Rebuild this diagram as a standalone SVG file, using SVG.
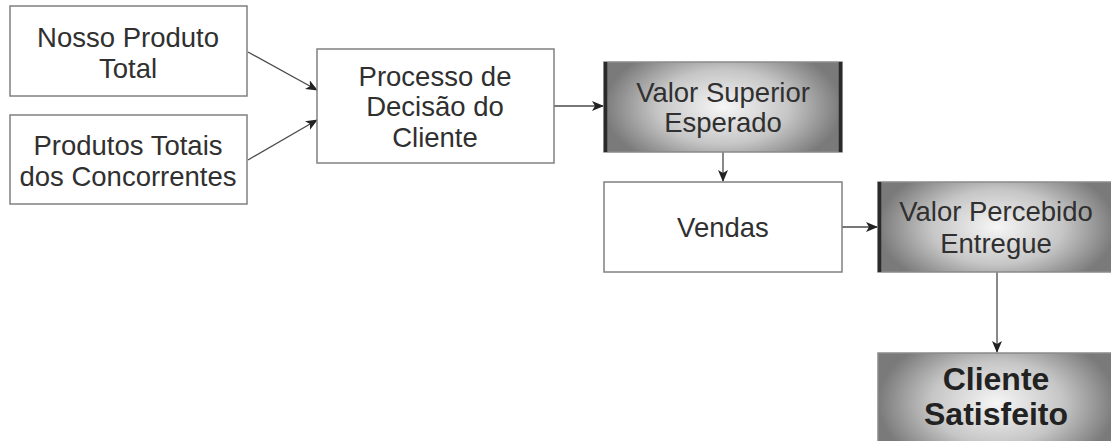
<svg xmlns="http://www.w3.org/2000/svg" width="1111" height="441" viewBox="0 0 1111 441">
<style>
.box{fill:#fff;stroke:#808080;stroke-width:1.5}
.gbox{fill:url(#shade);stroke:#8a8a8a;stroke-width:1.5}
.edge{stroke:#2a2a2a;stroke-width:3.5}
.t{font-family:"Liberation Sans",Arial,sans-serif;font-size:27.5px;fill:#303030;text-anchor:middle}
.tb{font-family:"Liberation Sans",Arial,sans-serif;font-size:32px;font-weight:bold;fill:#222;text-anchor:middle}
.con{stroke:#4a4a4a;stroke-width:1.3;fill:none;marker-end:url(#arr)}
</style>
<defs>
<radialGradient id="shade" cx="0.5" cy="0.5" r="0.5" gradientTransform="translate(0.5 0.5) scale(1.0 1.5) translate(-0.5 -0.5)">
<stop offset="0" stop-color="#f6f6f6"/>
<stop offset="0.55" stop-color="#c6c6c6"/>
<stop offset="1" stop-color="#7a7a7a"/>
</radialGradient>
<marker id="arr" markerWidth="12" markerHeight="10" refX="11" refY="5" orient="auto" markerUnits="userSpaceOnUse">
<path d="M0,0 L12,5 L0,10 L3,5 Z" fill="#222"/>
</marker>
</defs>
<rect width="1111" height="441" fill="#fff"/>
<g id="connectors">
<line class="con" x1="248" y1="52" x2="317" y2="90"/>
<line class="con" x1="248" y1="160" x2="317" y2="120"/>
<line class="con" x1="554" y1="106" x2="603" y2="106"/>
<line class="con" x1="723" y1="152" x2="723" y2="181"/>
<line class="con" x1="842" y1="227" x2="877" y2="227"/>
<line class="con" x1="997" y1="272" x2="997" y2="352"/>
</g>
<g id="nosso">
<rect class="box" x="10" y="6" width="237" height="90"/>
<text class="t" x="128" y="47">Nosso Produto</text>
<text class="t" x="128" y="78">Total</text>
</g>
<g id="concorrentes">
<rect class="box" x="10" y="115" width="237" height="89"/>
<text class="t" x="128" y="155">Produtos Totais</text>
<text class="t" x="128" y="186">dos Concorrentes</text>
</g>
<g id="processo">
<rect class="box" x="317" y="49" width="237" height="114"/>
<text class="t" x="435" y="86">Processo de</text>
<text class="t" x="435" y="116">Decisão do</text>
<text class="t" x="435" y="147">Cliente</text>
</g>
<g id="valor-superior">
<rect class="gbox" x="604" y="62" width="238" height="90"/>
<line class="edge" x1="605.5" y1="62" x2="605.5" y2="152"/>
<line class="edge" x1="840.5" y1="62" x2="840.5" y2="152"/>
<text class="t" x="723" y="102">Valor Superior</text>
<text class="t" x="723" y="132">Esperado</text>
</g>
<g id="vendas">
<rect class="box" x="604" y="182" width="238" height="90"/>
<text class="t" x="723" y="237">Vendas</text>
</g>
<g id="valor-percebido">
<rect class="gbox" x="878" y="182" width="238" height="90"/>
<line class="edge" x1="879.5" y1="182" x2="879.5" y2="272"/>
<text class="t" x="996" y="221">Valor Percebido</text>
<text class="t" x="996" y="253">Entregue</text>
</g>
<g id="cliente-satisfeito">
<rect class="gbox" x="878" y="353" width="238" height="100"/>
<text class="tb" x="996" y="390">Cliente</text>
<text class="tb" x="996" y="425">Satisfeito</text>
</g>
</svg>
